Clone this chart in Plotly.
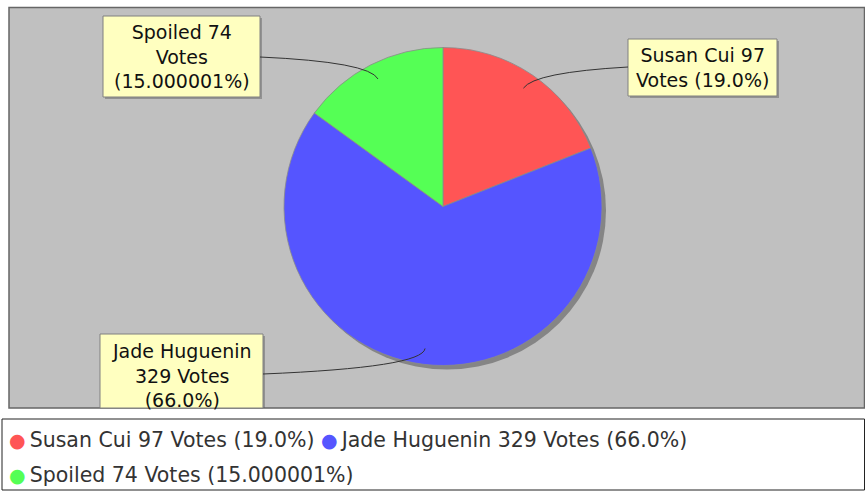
import math
import textwrap
import plotly.graph_objects as go

# ---- data ----
candidates = ["Susan Cui", "Jade Huguenin", "Spoiled"]
votes = [97, 329, 74]
shares = [19.0, 66.0, 15.000001]
share_text = ["19.0%", "66.0%", "15.000001%"]
colors = ["#ff5555", "#5555ff", "#55ff55"]

W, H = 865, 492
FONT = "DejaVu Sans"


def X(px):
    return px / W


def Y(py):
    return 1 - py / H


full_labels = [f"{c} {v} Votes ({s})" for c, v, s in zip(candidates, votes, share_text)]

# pie geometry (pixels)
pie_left, pie_top, diam = 284, 47.5, 318
r = diam / 2
cx, cy = pie_left + r, pie_top + r

# label boxes (pixels): x0, y0, x1, y1, attach x, attach y, text dy
boxes = [
    (628, 39, 777, 96, 628, 67, 0),
    (100, 334, 263, 408, 263, 374, 4),
    (103, 16, 260, 97, 260, 57, 0),
]

fig = go.Figure()
fig.add_trace(go.Pie(
    labels=candidates,
    values=shares,
    marker=dict(colors=colors, line=dict(color="#8a8a8a", width=0.8)),
    sort=False,
    direction="clockwise",
    rotation=0,
    textinfo="none",
    hovertext=full_labels,
    hoverinfo="text",
    showlegend=False,
    domain=dict(x=[X(pie_left), X(pie_left + diam)], y=[Y(pie_top + diam), Y(pie_top)]),
))

shapes = []
# plot background
shapes.append(dict(type="rect", xref="paper", yref="paper", layer="below",
                   x0=X(9), x1=X(864.5), y0=Y(408), y1=Y(7.5),
                   fillcolor="#c0c0c0", line=dict(color="#666666", width=1.5)))
# pie shadow
sh = 4
shapes.append(dict(type="circle", xref="paper", yref="paper", layer="below",
                   x0=X(cx - r + sh), x1=X(cx + r + sh), y0=Y(cy + r + sh), y1=Y(cy - r + sh),
                   fillcolor="#858585", line=dict(width=0)))
# legend box
shapes.append(dict(type="rect", xref="paper", yref="paper", layer="below",
                   x0=X(2), x1=X(864.5), y0=Y(490), y1=Y(419),
                   fillcolor="white", line=dict(color="#222222", width=1)))

annotations = []
total = sum(shares)
cum = 0.0
for i, (lab, box) in enumerate(zip(full_labels, boxes)):
    mid = (cum + shares[i] / 2) / total * 2 * math.pi
    cum += shares[i]
    dx, dy = math.sin(mid), -math.cos(mid)
    ax, ay = cx + 0.9 * r * dx, cy + 0.9 * r * dy
    ex, ey = cx + 1.02 * r * dx, cy + 1.02 * r * dy
    x0, y0, x1, y1, tx, ty, tdy = box
    # box shadow and box
    shapes.append(dict(type="rect", xref="paper", yref="paper", layer="above",
                       x0=X(x0 + 2), x1=X(x1 + 2), y0=Y(min(y1 + 2, 408)), y1=Y(y0 + 2),
                       fillcolor="rgba(90,90,90,0.45)", line=dict(width=0)))
    shapes.append(dict(type="rect", xref="paper", yref="paper", layer="above",
                       x0=X(x0), x1=X(x1), y0=Y(y1), y1=Y(y0),
                       fillcolor="#ffffc0", line=dict(color="#808080", width=1)))
    # leader line
    path = f"M {X(ax)},{Y(ay)} Q {X(ex)},{Y(ey)} {X(tx)},{Y(ty)}"
    shapes.append(dict(type="path", xref="paper", yref="paper", layer="above",
                       path=path, line=dict(color="#333333", width=1)))
    wrapped = "<br>".join(textwrap.wrap(lab, 13))
    annotations.append(dict(xref="paper", yref="paper", x=X((x0 + x1) / 2),
                            y=Y((y0 + min(y1, 420)) / 2 + tdy),
                            text=wrapped, showarrow=False, align="center",
                            xanchor="center", yanchor="middle",
                            font=dict(family=FONT, size=19, color="#111111")))

# legend built from the data
rows = [[0, 1], [2]]
row_y = [440, 475]
for row, yy in zip(rows, row_y):
    parts = [f"<span style='color:{colors[k]};font-size:19px'>●</span>\u2009{full_labels[k]}"
             for k in row]
    annotations.append(dict(xref="paper", yref="paper", x=X(7), y=Y(yy),
                            text=" ".join(parts), showarrow=False,
                            xanchor="left", yanchor="middle", align="left",
                            font=dict(family=FONT, size=20.5, color="#333333")))

fig.update_layout(
    width=W, height=H,
    margin=dict(l=0, r=0, t=0, b=0),
    paper_bgcolor="white",
    plot_bgcolor="white",
    shapes=shapes,
    annotations=annotations,
    showlegend=False,
)

fig.write_html("out.html", config={"displayModeBar": False},
               post_script="document.body.style.margin='0';")
